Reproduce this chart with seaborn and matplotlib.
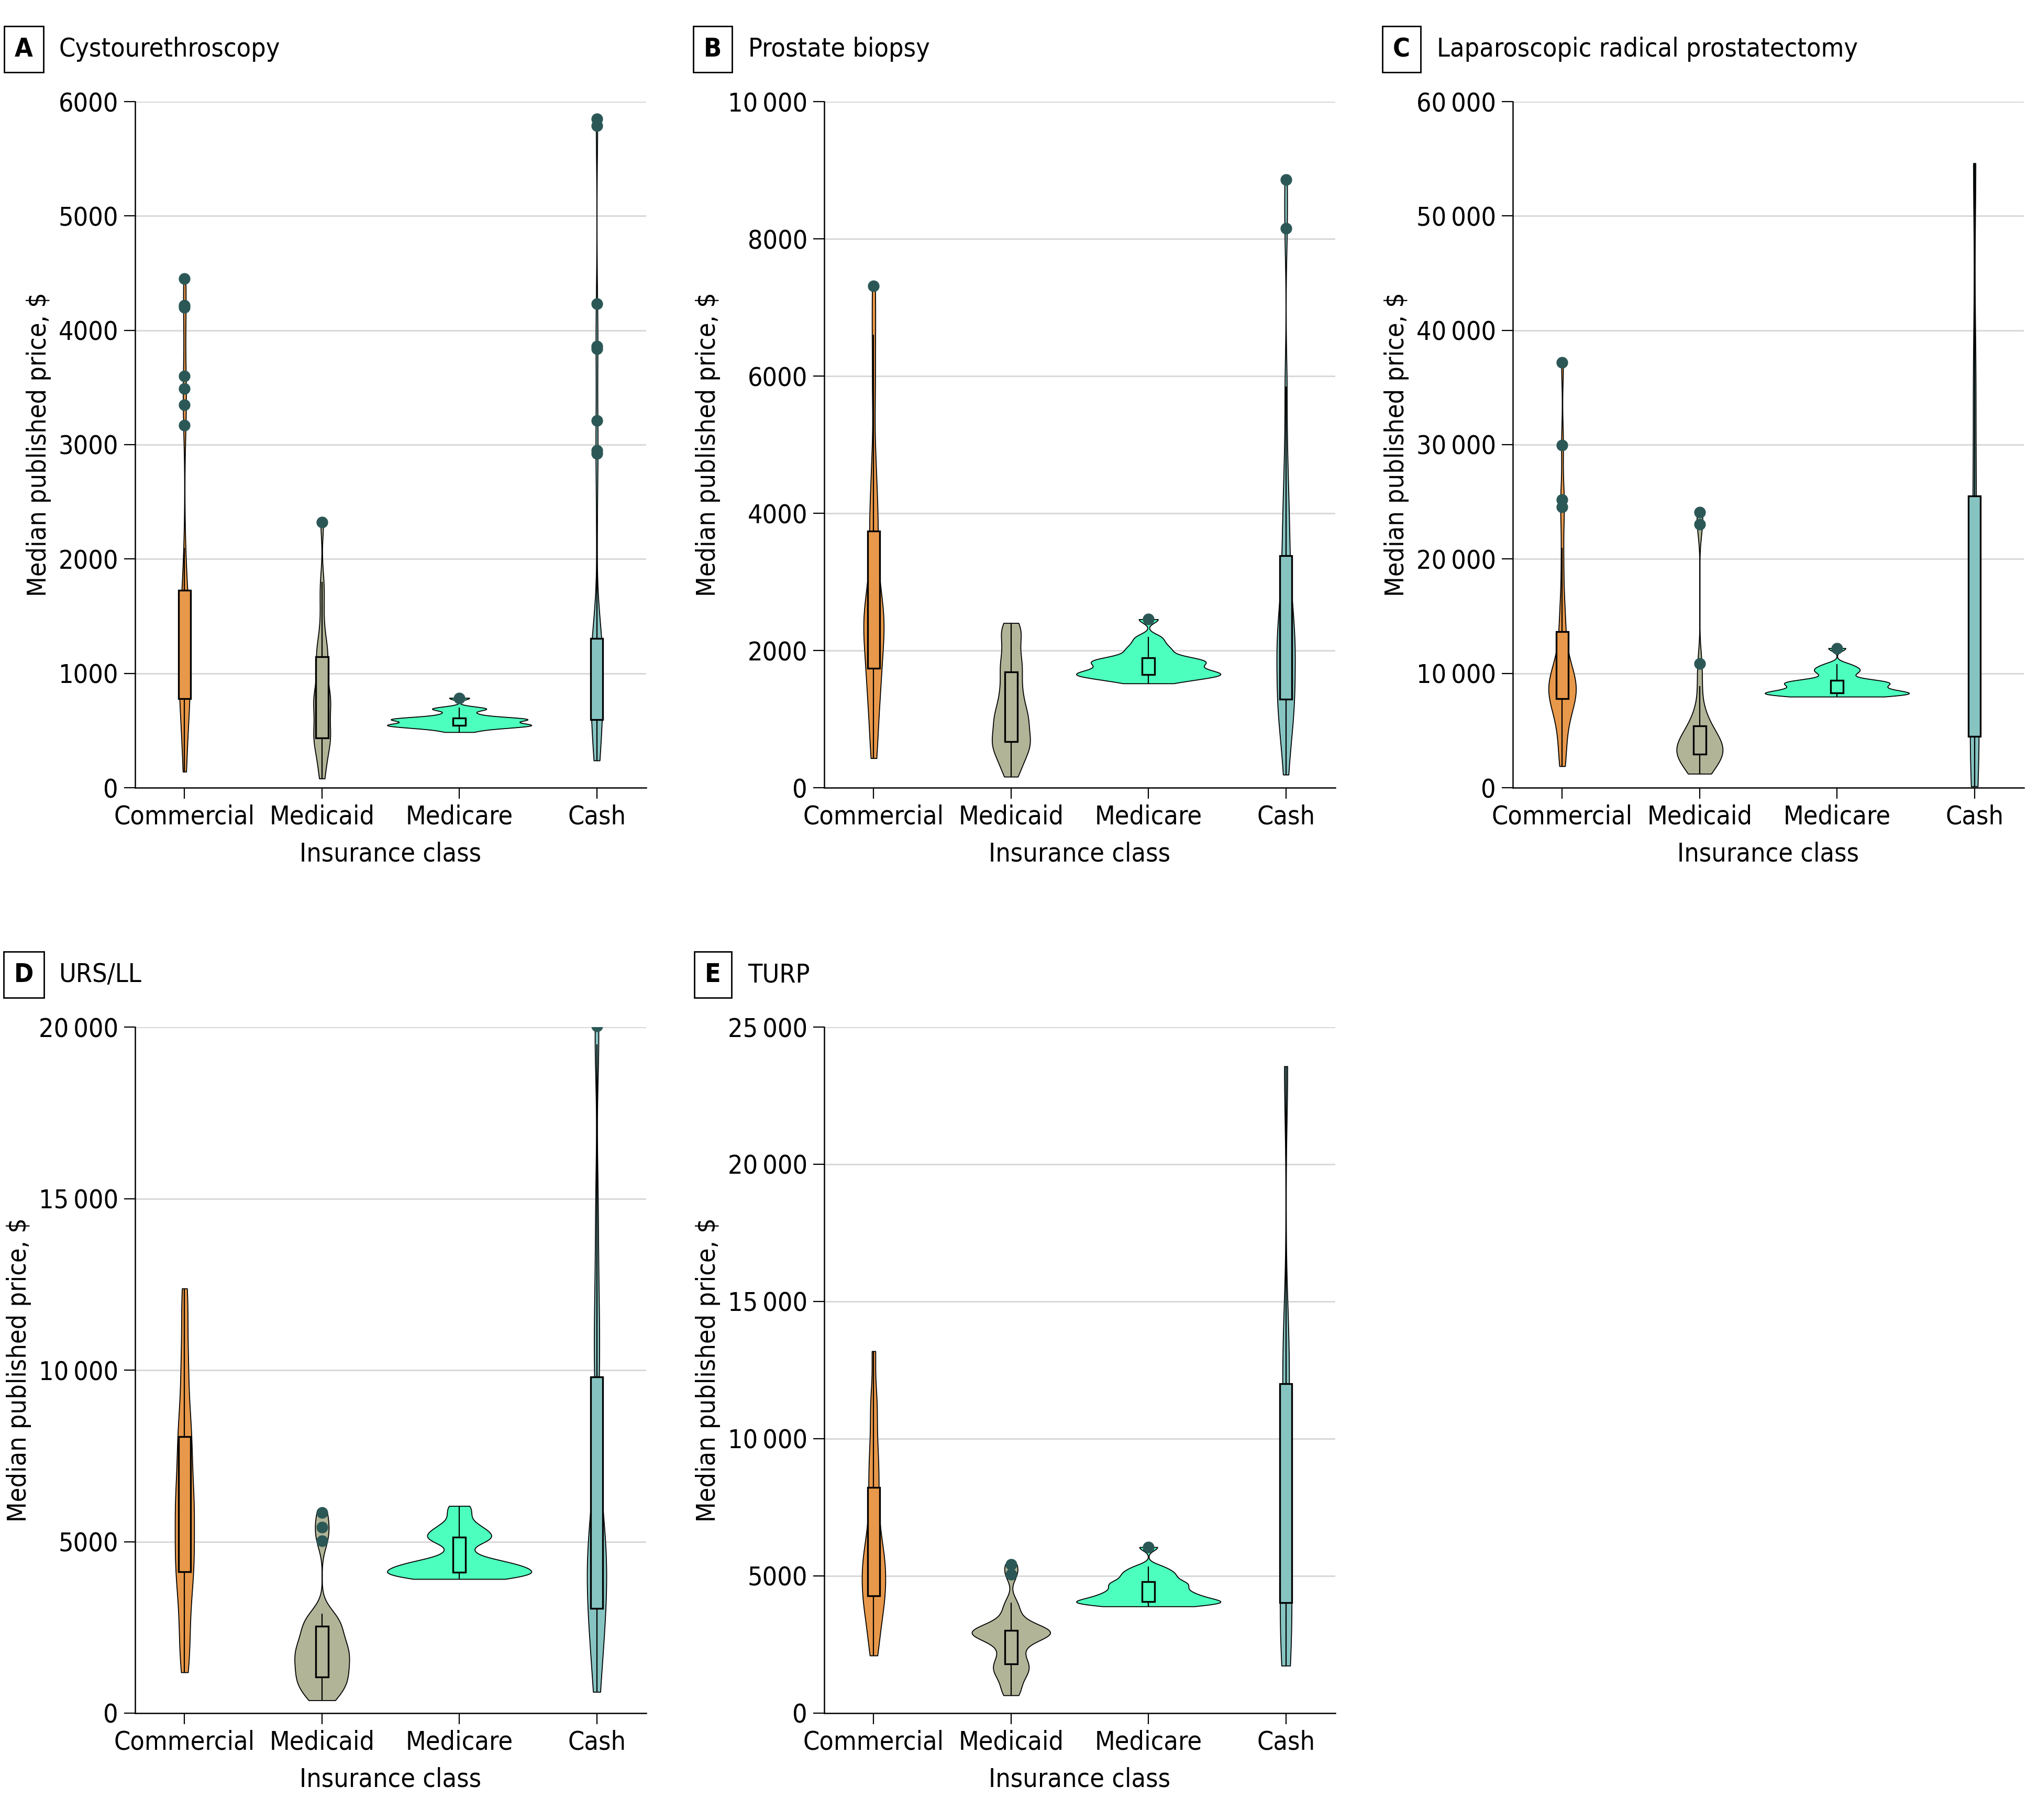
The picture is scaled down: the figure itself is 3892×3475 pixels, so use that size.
import os
import numpy as np
import pandas as pd
import matplotlib
matplotlib.use("Agg")
import matplotlib.pyplot as plt
import matplotlib.font_manager as fm
from matplotlib.ft2font import FT2Font
import seaborn as sns

# ---------------- data ----------------
categories = ["Commercial", "Medicaid", "Medicare", "Cash"]
colors = ["#E8984A", "#B1B497", "#4DFFBE", "#86C4C2"]
flier_color = "#2B5856"

panel_letters = ["A", "B", "C", "D", "E"]
panel_titles = ["Cystourethroscopy", "Prostate biopsy",
                "Laparoscopic radical prostatectomy", "URS/LL", "TURP"]
y_max = [6000, 10000, 60000, 20000, 25000]
y_step = [1000, 2000, 10000, 5000, 5000]

# A  Cystourethroscopy
cysto_commercial = [140, 190, 400, 460, 620, 700, 740, 760, 778, 850, 930, 1000, 1060,
                    1100, 1140, 1170, 1180, 1220, 1300, 1400, 1500, 1580, 1650, 1700,
                    1725, 2100, 3170, 3350, 3490, 3600, 4200, 4220, 4450]
cysto_medicaid = [80, 200, 260, 380, 420, 430, 436, 500, 560, 640, 700, 740, 760, 800,
                  830, 900, 1000, 1100, 1145, 1200, 1250, 1400, 1620, 1800, 2320]
cysto_medicare = [486, 510, 520, 530, 535, 540, 545, 548, 552, 558, 565, 575, 585, 590,
                  595, 600, 605, 608, 610, 630, 650, 680, 690, 700, 785]
cysto_cash = [238, 300, 380, 450, 500, 540, 560, 580, 590, 595, 650, 750, 850, 920, 980,
              1010, 1040, 1060, 1071, 1100, 1140, 1180, 1220, 1250, 1270, 1285, 1295,
              1304, 2360, 2920, 2950, 3210, 3840, 3860, 4230, 5790, 5850]

# B  Prostate biopsy
biopsy_commercial = [430, 700, 1000, 1300, 1450, 1600, 1740, 1900, 2100, 2250, 2350, 2420,
                     2455, 2550, 2650, 2800, 3100, 3500, 3740, 4000, 4300, 4800, 5800,
                     6600, 7310]
biopsy_medicaid = [160, 300, 400, 500, 560, 620, 670, 730, 800, 880, 950, 1020, 1075, 1150,
                   1250, 1350, 1450, 1580, 1690, 1800, 1900, 2050, 2200, 2300, 2400]
biopsy_medicare = [1520, 1560, 1590, 1610, 1630, 1640, 1650, 1665, 1680, 1700, 1720, 1750,
                   1775, 1800, 1820, 1840, 1860, 1875, 1890, 1950, 2000, 2050, 2120, 2200,
                   2455]
biopsy_cash = [190, 450, 800, 1000, 1100, 1200, 1260, 1290, 1400, 1600, 1800, 1950, 2050,
               2100, 2140, 2200, 2350, 2500, 2650, 2900, 3200, 3385, 3700, 4000, 4300,
               4900, 5850, 8150, 8860]

# C  Laparoscopic radical prostatectomy
lrp_commercial = [1880, 2500, 3500, 4500, 5500, 6200, 6800, 7300, 7800, 8000, 8200, 8400,
                  8500, 8600, 8700, 8800, 8900, 9100, 9400, 9700, 10000, 10500, 11200,
                  12000, 13670, 14500, 15500, 18000, 21000, 24570, 25180, 29960, 37180]
lrp_medicaid = [1220, 1500, 1900, 2300, 2600, 2800, 2940, 3050, 3150, 3250, 3350, 3450,
                3510, 3700, 3900, 4200, 4600, 5000, 5390, 5900, 6500, 8900, 10860, 23060,
                24080]
lrp_medicare = [7960, 8050, 8100, 8150, 8200, 8250, 8290, 8350, 8450, 8550, 8650, 8780,
                8900, 9000, 9100, 9200, 9280, 9340, 9390, 9800, 10100, 10300, 10500, 10800,
                12200]
lrp_cash = [120, 2900, 4490, 8000, 11140, 18000, 25510, 36000, 54610]

# D  URS/LL
urs_commercial = [1190, 1800, 2300, 2900, 3400, 3800, 4120, 4400, 4700, 5000, 5300, 5700,
                  5960, 6200, 6500, 6900, 7300, 7700, 8060, 8500, 9000, 9800, 10500, 11500,
                  12380]
urs_medicaid = [375, 500, 650, 800, 900, 1000, 1060, 1200, 1350, 1450, 1550, 1650, 1760,
                1850, 1950, 2050, 2200, 2350, 2540, 2650, 2750, 2900, 5030, 5420, 5850]
urs_medicare = [3910, 3950, 3990, 4020, 4050, 4080, 4100, 4150, 4200, 4250, 4290, 4330,
                4365, 4420, 4500, 4700, 4950, 5050, 5130, 5200, 5300, 5400, 5550, 5800,
                6040]
urs_cash = [620, 1100, 1700, 2300, 2700, 2900, 3060, 3400, 3800, 4100, 4400, 4600, 4755,
            4900, 5200, 5600, 6300, 7500, 9800, 10500, 11500, 13000, 15000, 19500, 20030]

# E  TURP
turp_commercial = [2100, 2600, 3100, 3500, 3800, 4050, 4275, 4500, 4750, 5000, 5200, 5450,
                   5640, 5900, 6200, 6600, 7100, 7700, 8225, 8800, 9300, 10000, 10900,
                   11600, 13190]
turp_medicaid = [650, 900, 1200, 1400, 1550, 1700, 1790, 2000, 2200, 2450, 2650, 2800,
                 2890, 2910, 2930, 2950, 2970, 2990, 3010, 3200, 3400, 3700, 4030, 5050,
                 5420]
turp_medicare = [3890, 3930, 3970, 4000, 4030, 4050, 4070, 4120, 4170, 4220, 4270, 4330,
                 4380, 4450, 4530, 4600, 4680, 4740, 4785, 4900, 5000, 5100, 5200, 5350,
                 6050]
turp_cash = [1730, 2600, 4030, 5000, 6410, 9000, 12010, 13500, 23570]

panel_data = [
    [cysto_commercial, cysto_medicaid, cysto_medicare, cysto_cash],
    [biopsy_commercial, biopsy_medicaid, biopsy_medicare, biopsy_cash],
    [lrp_commercial, lrp_medicaid, lrp_medicare, lrp_cash],
    [urs_commercial, urs_medicaid, urs_medicare, urs_cash],
    [turp_commercial, turp_medicaid, turp_medicare, turp_cash],
]

# ---------------- fonts: look for a condensed sans ----------------
def find_condensed(bold=False):
    prefs = ["liberationsansnarrow", "dejavusanscondensed", "notosanscondensed",
             "robotocondensed", "opensanscondensed", "notosans-condensed",
             "opensans-condensed", "roboto_condensed", "lato"]
    files = sorted(set(f.fname for f in fm.fontManager.ttflist))
    cand = []
    for fpath in files:
        base = os.path.basename(fpath).lower().replace(" ", "")
        if not base.endswith((".ttf", ".otf")):
            continue
        is_bold = "bold" in base
        if is_bold != bold:
            continue
        if any(k in base for k in ["italic", "oblique", "light", "thin", "semi",
                                   "extra", "black", "medium", "semibold"]):
            continue
        if "condensed" in base or "narrow" in base:
            for rank, p in enumerate(prefs):
                if p.replace("-", "") in base.replace("-", "").replace("_", ""):
                    cand.append((rank, fpath))
                    break
            else:
                cand.append((50, fpath))
    if cand:
        cand.sort()
        return cand[0][1]
    return None


reg_path = find_condensed(False)
bold_path = find_condensed(True)
sns.set_theme(style="white")
if reg_path:
    FP = fm.FontProperties(fname=reg_path)
else:
    FP = fm.FontProperties(family=["Roboto", "DejaVu Sans"])
if bold_path:
    FPB = fm.FontProperties(fname=bold_path)
else:
    FPB = fm.FontProperties(family=["Roboto", "DejaVu Sans"], weight="bold")
plt.rcParams["font.family"] = ["Roboto", "DejaVu Sans"]

thin = "\u2009"
if reg_path:
    try:
        if FT2Font(reg_path).get_char_index(0x2009) == 0:
            thin = " "
    except Exception:
        thin = " "

FS = 36 if reg_path else 33
FP.set_size(FS)
FPB.set_size(FS)

W, H = 3892, 3475
fig = plt.figure(figsize=(W / 100, H / 100), dpi=100)

ax_w = 976 / W
ax_h = 1310 / H
lefts = [258, 1574, 2889, 258, 1574]
tops = [194, 194, 194, 1961, 1961]


def fmt(v):
    v = int(round(v))
    if v >= 10000:
        return f"{v:,}".replace(",", thin)
    return f"{v}"


palette = dict(zip(categories, colors))

for i in range(5):
    left = lefts[i] / W
    bottom = 1 - (tops[i] + 1310) / H
    ax = fig.add_axes([left, bottom, ax_w, ax_h])

    rows = []
    for cat, vals in zip(categories, panel_data[i]):
        for v in vals:
            rows.append((cat, v))
    df = pd.DataFrame(rows, columns=["Insurance class", "price"])

    sns.violinplot(data=df, x="Insurance class", y="price", hue="Insurance class",
                   order=categories, hue_order=categories, palette=palette,
                   inner=None, cut=0, density_norm="area", common_norm=True,
                   width=1.05, bw_adjust=0.45, linewidth=1.3, linecolor="black",
                   saturation=1, legend=False, ax=ax, zorder=2)
    sns.boxplot(data=df, x="Insurance class", y="price", hue="Insurance class",
                order=categories, hue_order=categories, palette=palette,
                width=0.09, showcaps=False, linewidth=2.4, linecolor="black",
                saturation=1, legend=False, ax=ax,
                whiskerprops=dict(linewidth=1.6, color="black"),
                medianprops=dict(linewidth=4.5, color="black"),
                flierprops=dict(marker="o", markersize=15, markerfacecolor=flier_color,
                                markeredgecolor=flier_color, linestyle="none"))
    for art in ax.patches:
        art.set_zorder(3)

    ax.set_xlim(-0.36, 3.36)
    ax.set_ylim(0, y_max[i])
    yt = list(range(0, y_max[i] + 1, y_step[i]))
    ax.set_yticks(yt, [fmt(v) for v in yt], fontproperties=FP)
    ax.set_xticks(range(len(categories)), categories, fontproperties=FP)
    ax.grid(axis="y", color="#d9d9d9", linewidth=2.2)
    ax.grid(axis="x", visible=False)
    ax.set_axisbelow(True)
    for s in ["top", "right"]:
        ax.spines[s].set_visible(False)
    for s in ["left", "bottom"]:
        ax.spines[s].set_color("black")
        ax.spines[s].set_linewidth(1.8)
    ax.tick_params(axis="both", which="major", direction="out", length=15, width=1.6,
                   color="black", labelcolor="black", pad=8, left=True, bottom=True)
    ax.set_xlabel("Insurance class", fontproperties=FP, labelpad=16, color="black")
    ax.set_ylabel("Median published price, $", fontproperties=FP, labelpad=10,
                  color="black")

    ax.text(-0.218, 1.076, panel_letters[i], transform=ax.transAxes, fontproperties=FPB,
            ha="center", va="center", color="black",
            bbox=dict(boxstyle="square,pad=0.4", fc="white", ec="black", lw=2))
    ax.text(-0.149, 1.076, panel_titles[i], transform=ax.transAxes, fontproperties=FP,
            ha="left", va="center", color="black")

fig.savefig("out.png", dpi=100)
